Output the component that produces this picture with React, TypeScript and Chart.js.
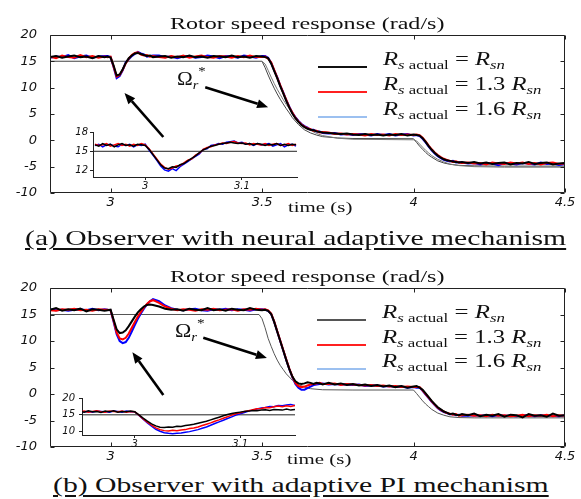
import React, { useEffect, useLayoutEffect, useRef } from 'react';
import { Chart, registerables } from 'chart.js';

Chart.register(...registerables);

// ---------------- data ----------------
const MAIN_X_RANGE = [2.8, 4.5];
const MAIN_Y_RANGE = [-10, 20];
const MAIN_X_TICKS = [3, 3.5, 4, 4.5];
const MAIN_Y_TICKS = [-10, -5, 0, 5, 10, 15, 20];

const TIME = [
  2.80, 2.82, 2.84, 2.86, 2.88, 2.90, 2.92, 2.94, 2.96, 2.98,
  2.99, 3.00, 3.01, 3.02, 3.03, 3.04, 3.05, 3.06, 3.07, 3.08, 3.09, 3.10, 3.11, 3.12, 3.13, 3.14,
  3.16, 3.18, 3.20, 3.22, 3.24, 3.26, 3.28, 3.30, 3.32, 3.34, 3.36, 3.38, 3.40, 3.42, 3.44, 3.46, 3.48, 3.50,
  3.51, 3.52, 3.53, 3.54, 3.55, 3.56, 3.57, 3.58, 3.59, 3.60, 3.61, 3.62, 3.63, 3.64, 3.65, 3.66, 3.67, 3.68, 3.69, 3.70,
  3.72, 3.74, 3.76, 3.78, 3.80, 3.82, 3.84, 3.86, 3.88, 3.90, 3.92, 3.94, 3.96, 3.98, 4.00,
  4.01, 4.02, 4.03, 4.04, 4.05, 4.06, 4.07, 4.08, 4.09, 4.10, 4.11, 4.12, 4.13, 4.14, 4.15, 4.16,
  4.18, 4.20, 4.22, 4.24, 4.26, 4.28, 4.30, 4.32, 4.34, 4.36, 4.38, 4.40, 4.42, 4.44, 4.46, 4.48, 4.50,
];

// (a) neural adaptive mechanism
const A_BLACK = [
  15.8, 16.0, 15.7, 15.9, 16.1, 15.8, 15.9, 15.6, 16.0, 15.8,
  15.9, 15.7, 14.2, 12.3, 12.5, 13.5, 14.7, 15.6, 16.1, 16.5, 16.6, 16.4, 16.2, 16.0, 16.1, 15.8,
  15.9, 16.0, 15.7, 15.9, 15.8, 16.1, 15.8, 15.9, 15.7, 16.0, 15.9, 15.8, 16.1, 15.8, 15.9, 15.7, 16.0, 15.9,
  15.8, 15.6, 14.6, 13.2, 11.8, 10.3, 8.9, 7.5, 6.2, 5.1, 4.2, 3.5, 2.9, 2.5, 2.2, 2.0, 1.9, 1.7, 1.6, 1.5,
  1.4, 1.3, 1.2, 1.3, 1.1, 1.0, 1.2, 1.0, 1.1, 0.9, 1.1, 1.0, 1.2, 0.9, 1.1,
  1.0, 0.9, 0.4, -0.3, -1.1, -1.8, -2.4, -2.9, -3.3, -3.6, -3.8, -3.9, -4.0, -4.1, -4.2, -4.1,
  -4.3, -4.1, -4.4, -4.2, -4.5, -4.3, -4.2, -4.6, -4.3, -4.4, -4.1, -4.5, -4.3, -4.2, -4.6, -4.4, -4.3,
];
const A_RED = [
  15.9, 15.6, 16.1, 15.8, 15.7, 16.2, 15.8, 16.0, 15.7, 15.9,
  15.8, 15.9, 14.0, 12.1, 12.4, 13.4, 14.6, 15.5, 16.2, 16.6, 16.7, 16.3, 16.1, 16.2, 15.9, 16.0,
  15.8, 15.7, 16.0, 15.8, 16.1, 15.7, 15.9, 16.1, 15.8, 15.7, 16.0, 15.9, 15.7, 16.0, 15.8, 16.1, 15.8, 15.8,
  15.9, 15.5, 14.8, 13.4, 11.9, 10.5, 9.0, 7.7, 6.3, 5.3, 4.3, 3.6, 3.0, 2.6, 2.3, 2.1, 1.8, 1.8, 1.5, 1.6,
  1.5, 1.2, 1.3, 1.1, 1.2, 1.1, 0.9, 1.2, 1.0, 1.1, 0.9, 1.2, 1.0, 1.1, 1.0,
  1.1, 1.0, 0.5, -0.2, -1.0, -1.7, -2.3, -2.8, -3.2, -3.5, -3.7, -3.9, -4.1, -4.0, -4.2, -4.3,
  -4.2, -4.4, -4.3, -4.6, -4.2, -4.4, -4.5, -4.2, -4.4, -4.2, -4.5, -4.3, -4.6, -4.3, -4.2, -4.5, -4.4,
];
const A_BLUE = [
  15.7, 15.9, 15.8, 16.2, 15.6, 15.9, 16.1, 15.7, 15.9, 16.0,
  16.0, 15.8, 13.9, 11.8, 12.2, 13.3, 14.8, 15.4, 16.0, 16.4, 16.8, 16.5, 16.3, 15.9, 16.0, 16.1,
  16.1, 15.8, 15.9, 15.6, 15.9, 16.0, 15.7, 15.8, 16.1, 15.9, 15.6, 16.0, 15.9, 15.7, 16.1, 15.9, 15.7, 16.0,
  16.0, 15.7, 14.7, 13.3, 12.0, 10.4, 9.1, 7.6, 6.4, 5.2, 4.4, 3.7, 3.1, 2.7, 2.4, 2.0, 2.0, 1.7, 1.7, 1.4,
  1.3, 1.4, 1.1, 1.2, 1.0, 1.2, 1.1, 0.9, 1.2, 1.0, 1.2, 0.9, 1.1, 1.2, 0.9,
  1.0, 0.8, 0.3, -0.4, -1.2, -1.9, -2.5, -3.0, -3.4, -3.7, -3.9, -4.0, -3.9, -4.2, -4.1, -4.2,
  -4.4, -4.3, -4.6, -4.3, -4.4, -4.7, -4.3, -4.4, -4.6, -4.3, -4.4, -4.6, -4.2, -4.5, -4.4, -4.7, -4.5,
];
const REF_A_T = [2.80, 3.50, 3.51, 3.52, 3.53, 3.54, 3.55, 3.56, 3.57, 3.58, 3.59, 3.60, 3.62, 3.64, 3.66, 3.68, 3.70, 3.75, 3.80, 4.00, 4.01, 4.02, 4.03, 4.04, 4.05, 4.06, 4.08, 4.10, 4.12, 4.15, 4.20, 4.30, 4.50];
const REF_A = [15, 15, 13.8, 12.4, 11.1, 9.9, 8.8, 7.8, 6.9, 6.0, 5.2, 4.3, 3.0, 2.0, 1.4, 1.0, 0.7, 0.45, 0.35, 0.3, -0.4, -1.1, -1.7, -2.3, -2.8, -3.2, -3.9, -4.3, -4.55, -4.75, -4.85, -4.9, -4.9];
const REF2_A = [15, 15, 14.5, 13.3, 12.0, 10.8, 9.7, 8.7, 7.7, 6.8, 6.0, 5.2, 3.8, 2.7, 1.9, 1.3, 0.9, 0.4, 0.2, 0.1, -0.1, -0.7, -1.3, -1.9, -2.4, -2.9, -3.6, -4.1, -4.5, -4.8, -5.0, -5.1, -5.1];

// (b) adaptive PI mechanism
const B_BLACK = [
  15.9, 16.2, 15.7, 16.0, 15.8, 16.1, 15.6, 16.0, 15.9, 15.7,
  15.8, 15.9, 14.0, 12.2, 11.5, 11.6, 12.0, 12.8, 13.7, 14.6, 15.4, 16.0, 16.5, 16.8, 16.9, 16.8,
  16.5, 16.1, 15.9, 16.0, 15.7, 16.1, 15.9, 15.8, 16.2, 15.8, 16.0, 15.7, 16.1, 15.9, 15.8, 16.2, 15.9, 15.8,
  15.9, 15.7, 15.1, 13.6, 11.8, 10.0, 8.2, 6.4, 4.7, 3.3, 2.4, 2.0, 1.9, 2.0, 2.2, 2.1, 1.9, 2.1, 2.0, 1.8,
  2.1, 1.8, 2.0, 1.7, 1.9, 1.6, 1.8, 1.5, 1.7, 1.4, 1.6, 1.3, 1.5, 1.2, 1.4,
  1.5, 1.2, 0.8, 0.1, -0.6, -1.3, -1.9, -2.5, -2.9, -3.3, -3.5, -3.8, -3.7, -3.9, -4.0, -3.8,
  -4.0, -3.7, -4.2, -3.9, -4.1, -3.8, -4.3, -3.9, -4.0, -4.4, -3.8, -4.1, -4.0, -4.3, -3.7, -4.1, -4.0,
];
const B_RED = [
  15.8, 15.7, 16.0, 15.9, 16.1, 15.8, 15.9, 15.7, 16.0, 15.9,
  15.9, 15.8, 13.8, 11.6, 10.5, 10.3, 10.6, 11.4, 12.5, 13.6, 14.6, 15.5, 16.3, 17.0, 17.5, 17.7,
  17.2, 16.5, 16.1, 15.8, 16.0, 15.9, 15.7, 16.0, 15.9, 16.1, 15.8, 15.9, 16.0, 15.7, 16.0, 15.9, 16.1, 15.9,
  16.0, 15.8, 15.2, 13.7, 11.9, 10.1, 8.3, 6.5, 4.8, 3.3, 2.1, 1.5, 1.3, 1.4, 1.6, 1.8, 1.9, 2.0, 2.1, 1.9,
  1.9, 2.0, 1.7, 1.9, 1.8, 1.7, 1.6, 1.7, 1.5, 1.6, 1.4, 1.5, 1.3, 1.4, 1.3,
  1.3, 1.3, 0.7, 0.0, -0.7, -1.4, -2.0, -2.6, -3.0, -3.3, -3.6, -3.7, -3.9, -3.8, -4.1, -4.0,
  -3.9, -4.1, -4.0, -4.2, -3.9, -4.1, -4.0, -4.2, -4.1, -3.9, -4.2, -4.0, -4.1, -3.9, -4.2, -4.0, -4.1,
];
const B_BLUE = [
  16.0, 15.8, 15.9, 15.7, 15.9, 16.0, 15.8, 16.1, 15.8, 16.0,
  15.9, 15.8, 13.6, 11.3, 10.0, 9.6, 9.8, 10.6, 11.8, 13.0, 14.2, 15.2, 16.1, 16.9, 17.5, 17.9,
  17.5, 16.7, 16.2, 15.9, 15.8, 16.0, 16.1, 15.8, 15.7, 16.0, 15.9, 16.1, 15.8, 16.0, 15.9, 15.7, 16.0, 16.0,
  15.9, 15.7, 15.1, 13.6, 11.8, 10.0, 8.2, 6.4, 4.7, 3.2, 1.9, 1.2, 0.8, 0.8, 1.1, 1.4, 1.7, 1.8, 1.9, 2.0,
  1.8, 1.9, 1.8, 1.8, 1.7, 1.8, 1.5, 1.6, 1.6, 1.4, 1.5, 1.3, 1.4, 1.2, 1.3,
  1.2, 1.2, 0.6, -0.1, -0.8, -1.5, -2.1, -2.7, -3.1, -3.4, -3.6, -3.8, -3.8, -4.0, -3.9, -4.1,
  -4.1, -4.0, -4.1, -4.0, -4.2, -4.0, -4.1, -4.1, -4.2, -4.0, -4.0, -4.2, -4.0, -4.1, -4.1, -4.2, -4.0,
];
const REF_B_T = [2.80, 3.49, 3.50, 3.51, 3.52, 3.53, 3.54, 3.55, 3.56, 3.57, 3.58, 3.59, 3.60, 3.62, 3.64, 3.66, 3.70, 3.80, 4.00, 4.01, 4.02, 4.03, 4.04, 4.05, 4.06, 4.08, 4.10, 4.12, 4.15, 4.20, 4.50];
const REF_B = [15, 15, 14.2, 12.5, 10.5, 9.0, 7.6, 6.4, 5.4, 4.6, 3.8, 3.2, 2.6, 1.8, 1.3, 1.0, 0.8, 0.75, 0.75, 0.1, -0.6, -1.3, -1.9, -2.4, -2.9, -3.6, -4.0, -4.3, -4.45, -4.5, -4.5];

// insets (zoom on the load step)
const INSET_X_TICKS = [3, 3.1];
const INSET_A_X = [2.946, 3.157];
const INSET_A_Y = [11, 18];
const INSET_A_Y_TICKS = [12, 15, 18];
const INSET_B_X = [2.95, 3.152];
const INSET_B_Y = [9, 20];
const INSET_B_Y_TICKS = [10, 15, 20];
const INSET_REF = [15, 15];

const INSET_T = [
  2.948, 2.952, 2.956, 2.960, 2.964, 2.968, 2.972, 2.976, 2.980, 2.984, 2.988, 2.992, 2.996,
  3.000, 3.004, 3.008, 3.012, 3.016, 3.020, 3.024, 3.028, 3.032, 3.036, 3.040, 3.044, 3.048,
  3.052, 3.056, 3.060, 3.064, 3.068, 3.072, 3.076, 3.080, 3.084, 3.088, 3.092, 3.096, 3.100,
  3.104, 3.108, 3.112, 3.116, 3.120, 3.124, 3.128, 3.132, 3.136, 3.140, 3.144, 3.148, 3.152, 3.156,
];
const IA_BLACK = [
  16.0, 15.8, 16.2, 15.9, 16.1, 15.7, 16.0, 16.2, 15.9, 16.0, 15.8, 16.1, 16.0,
  15.9, 15.3, 14.5, 13.7, 12.9, 12.4, 12.3, 12.6, 12.5, 12.9, 13.1, 13.5, 13.9,
  14.3, 14.8, 15.2, 15.5, 15.8, 15.9, 16.1, 16.2, 16.3, 16.4, 16.3, 16.2, 16.3,
  16.1, 16.2, 16.0, 16.2, 16.1, 15.9, 16.1, 16.0, 16.2, 15.9, 16.1, 15.9, 16.1, 16.0,
];
const IA_RED = [
  16.1, 15.9, 16.0, 16.2, 15.8, 16.0, 16.2, 15.9, 16.1, 15.8, 16.1, 15.9, 16.2,
  16.0, 15.4, 14.6, 13.8, 13.0, 12.5, 12.2, 12.4, 12.7, 12.8, 13.2, 13.6, 13.8,
  14.4, 14.7, 15.3, 15.6, 15.7, 16.0, 16.1, 16.3, 16.2, 16.4, 16.5, 16.3, 16.2,
  16.3, 16.0, 16.2, 16.1, 16.0, 16.2, 15.9, 16.1, 16.2, 15.9, 16.0, 16.2, 15.9, 16.1,
];
const IA_BLUE = [
  15.9, 16.1, 15.7, 16.0, 16.1, 15.8, 15.7, 16.1, 15.9, 16.1, 15.7, 16.0, 15.9,
  16.1, 15.2, 14.4, 13.6, 12.7, 12.1, 11.9, 12.3, 12.0, 12.6, 13.0, 13.4, 13.8,
  14.2, 14.6, 15.3, 15.4, 15.9, 16.0, 16.2, 16.1, 16.4, 16.5, 16.6, 16.3, 16.4,
  16.1, 16.2, 15.9, 16.2, 16.0, 16.1, 16.2, 15.8, 16.0, 16.2, 15.7, 16.0, 16.1, 15.8,
];
const IB_BLACK = [
  16.0, 15.8, 16.2, 15.9, 16.0, 15.7, 16.1, 15.9, 16.2, 15.8, 16.0, 15.9, 16.1,
  15.9, 15.0, 14.0, 13.1, 12.3, 11.7, 11.3, 11.2, 11.4, 11.3, 11.6, 11.5, 11.8,
  12.0, 12.2, 12.5, 12.8, 13.1, 13.5, 13.9, 14.3, 14.7, 15.1, 15.4, 15.6, 15.8,
  16.0, 16.1, 16.3, 16.2, 16.4, 16.5, 16.3, 16.6, 16.5, 16.4, 16.7, 16.4, 16.6, 16.5,
];
const IB_RED = [
  15.9, 16.1, 15.8, 16.0, 16.2, 15.9, 15.8, 16.1, 16.0, 15.9, 16.1, 15.8, 16.0,
  15.9, 14.9, 13.8, 12.8, 11.9, 11.1, 10.6, 10.3, 10.2, 10.4, 10.3, 10.5, 10.6,
  10.9, 11.1, 11.4, 11.8, 12.2, 12.6, 13.1, 13.5, 14.0, 14.4, 14.9, 15.3, 15.6,
  16.0, 16.2, 16.5, 16.8, 16.9, 17.2, 17.1, 17.4, 17.6, 17.4, 17.7, 17.5, 17.8, 17.6,
];
const IB_BLUE = [
  16.1, 15.9, 16.0, 15.8, 16.1, 16.0, 15.9, 15.8, 16.1, 16.0, 15.8, 16.1, 15.9,
  15.9, 14.8, 13.7, 12.6, 11.6, 10.7, 10.1, 9.7, 9.5, 9.4, 9.5, 9.6, 9.8,
  10.0, 10.3, 10.6, 11.0, 11.4, 11.9, 12.4, 12.9, 13.4, 13.9, 14.4, 14.9, 15.3,
  15.7, 16.1, 16.4, 16.7, 17.0, 17.2, 17.5, 17.4, 17.8, 17.7, 17.9, 18.1, 17.8, 18.0,
];

// annotation arrows [x1, y1, x2, y2] in data units (head at x2,y2)
const ARROWS_A = [[3.3125, 10.1, 3.52, 6.3], [3.174, 0.63, 3.046, 9.0]];
const ARROWS_B = [[3.306, 10.6, 3.516, 6.8], [3.174, -0.2, 3.072, 7.9]];

const LEGEND_FACTORS = ['', '1.3 ', '1.6 '];
const LEGEND_COLORS_A = ['#111111', '#ff2020', '#9cc0f0'];
const LEGEND_COLORS_B = ['#555555', '#ff2020', '#9cc0f0'];

// ---------------- chart helpers ----------------
const SERIF = '"Liberation Serif", "DejaVu Serif", serif';
const TICK_FONT = { family: 'DejaVu Sans', size: 13, style: 'italic' as const };
const INSET_FONT = { family: 'DejaVu Sans', size: 10, style: 'italic' as const };

type Line = { t: number[]; v: number[]; color: string; width: number };

function lineDataset(l: Line) {
  return {
    data: l.v.map((v, i) => ({ x: l.t[i], y: v })),
    borderColor: l.color,
    borderWidth: l.width,
    pointRadius: 0,
    tension: 0,
    fill: false,
  };
}

const framePlugin = {
  id: 'frame',
  afterDatasetsDraw(chart: any, _args: any, opts: any) {
    if (!opts || !opts.enabled) return;
    const { ctx, chartArea: a, scales } = chart;
    const x = scales.x;
    const y = scales.y;
    ctx.save();
    ctx.strokeStyle = '#222';
    ctx.lineWidth = 1;
    const L = Math.round(a.left) + 0.5;
    const R = Math.round(a.right) - 0.5;
    const T = Math.round(a.top) + 0.5;
    const B = Math.round(a.bottom) - 0.5;
    ctx.beginPath();
    ctx.rect(L, T, R - L, B - T);
    for (const t of x.ticks) {
      const px = Math.round(x.getPixelForValue(t.value)) + 0.5;
      ctx.moveTo(px, B); ctx.lineTo(px, B - 4);
      ctx.moveTo(px, T); ctx.lineTo(px, T + 4);
    }
    for (const t of y.ticks) {
      const py = Math.round(y.getPixelForValue(t.value)) + 0.5;
      ctx.moveTo(L, py); ctx.lineTo(L + 4, py);
      ctx.moveTo(R, py); ctx.lineTo(R - 4, py);
    }
    ctx.stroke();
    ctx.fillStyle = '#000';
    ctx.strokeStyle = '#000';
    ctx.lineWidth = 2.6;
    for (const ar of opts.arrows || []) {
      const x1 = x.getPixelForValue(ar[0]);
      const y1 = y.getPixelForValue(ar[1]);
      const x2 = x.getPixelForValue(ar[2]);
      const y2 = y.getPixelForValue(ar[3]);
      const ang = Math.atan2(y2 - y1, x2 - x1);
      const hl = 11;
      const hw = 4.5;
      const bx = x2 - hl * Math.cos(ang);
      const by = y2 - hl * Math.sin(ang);
      ctx.beginPath();
      ctx.moveTo(x1, y1);
      ctx.lineTo(bx, by);
      ctx.stroke();
      ctx.beginPath();
      ctx.moveTo(x2, y2);
      ctx.lineTo(bx - hw * Math.sin(ang), by + hw * Math.cos(ang));
      ctx.lineTo(bx + hw * Math.sin(ang), by - hw * Math.cos(ang));
      ctx.closePath();
      ctx.fill();
    }
    ctx.restore();
  },
};

function mainConfig(lines: Line[], arrows: number[][], padTop: number, xAxisH: number): any {
  return {
    type: 'line',
    data: { datasets: lines.map(lineDataset) },
    options: {
      responsive: false,
      animation: false,
      events: [],
      layout: { padding: { top: padTop, right: 16, left: 0, bottom: 0 } },
      plugins: { legend: { display: false }, tooltip: { enabled: false }, frame: { enabled: true, arrows } },
      scales: {
        x: {
          type: 'linear',
          min: MAIN_X_RANGE[0],
          max: MAIN_X_RANGE[1],
          grid: { display: false, drawTicks: false },
          border: { display: false },
          afterBuildTicks: (s: any) => { s.ticks = MAIN_X_TICKS.map((v) => ({ value: v })); },
          afterFit: (s: any) => { s.height = xAxisH; s.paddingLeft = 0; s.paddingRight = 0; },
          ticks: { autoSkip: false, maxRotation: 0, minRotation: 0, padding: 2, color: '#111', font: TICK_FONT, callback: (v: any) => String(v) },
        },
        y: {
          type: 'linear',
          min: MAIN_Y_RANGE[0],
          max: MAIN_Y_RANGE[1],
          grid: { display: false, drawTicks: false },
          border: { display: false },
          afterBuildTicks: (s: any) => { s.ticks = MAIN_Y_TICKS.map((v) => ({ value: v })); },
          afterFit: (s: any) => { s.width = 50; s.paddingTop = 0; s.paddingBottom = 0; },
          ticks: { padding: 13, color: '#111', font: TICK_FONT, callback: (v: any) => String(v) },
        },
      },
    },
    plugins: [framePlugin],
  };
}

function insetConfig(lines: Line[], xr: number[], yr: number[], yTicks: number[], yPad: number, padTop: number, padRight: number, yW: number, xH: number): any {
  const grid = { display: true, drawOnChartArea: false, drawTicks: true, tickLength: 3, color: '#222' };
  return {
    type: 'line',
    data: { datasets: lines.map(lineDataset) },
    options: {
      responsive: false,
      animation: false,
      events: [],
      layout: { padding: { top: padTop, right: padRight, left: 0, bottom: 0 } },
      plugins: { legend: { display: false }, tooltip: { enabled: false } },
      scales: {
        x: {
          type: 'linear', min: xr[0], max: xr[1], grid, border: { display: true, color: '#222', width: 1 },
          afterBuildTicks: (s: any) => { s.ticks = INSET_X_TICKS.map((v) => ({ value: v })); },
          afterFit: (s: any) => { s.height = xH; s.paddingLeft = 0; s.paddingRight = 0; },
          ticks: { autoSkip: false, maxRotation: 0, minRotation: 0, padding: 0, color: '#111', font: INSET_FONT, callback: (v: any) => String(v) },
        },
        y: {
          type: 'linear', min: yr[0], max: yr[1], grid, border: { display: true, color: '#222', width: 1 },
          afterBuildTicks: (s: any) => { s.ticks = yTicks.map((v) => ({ value: v })); },
          afterFit: (s: any) => { s.width = yW; s.paddingTop = 0; s.paddingBottom = 0; },
          ticks: { padding: yPad, color: '#111', font: INSET_FONT, callback: (v: any) => String(v) },
        },
      },
    },
  };
}

function ChartCanvas({ left, top, width, height, build }: { left: number; top: number; width: number; height: number; build: () => any }) {
  const ref = useRef<HTMLCanvasElement>(null);
  useEffect(() => {
    const chart = new Chart(ref.current as HTMLCanvasElement, build());
    return () => chart.destroy();
  }, []);
  return <canvas ref={ref} width={width} height={height} style={{ position: 'absolute', left, top, width, height }} />;
}

function FitText({ left, top, width, size, style, children }: any) {
  const ref = useRef<HTMLDivElement>(null);
  useLayoutEffect(() => {
    const el = ref.current;
    if (!el) return;
    el.style.transform = 'none';
    const w = el.offsetWidth;
    if (w > 0) el.style.transform = `scaleX(${width / w})`;
  }, [width]);
  return (
    <div
      ref={ref}
      style={{ position: 'absolute', left, top, whiteSpace: 'nowrap', transformOrigin: '0 0', fontFamily: SERIF, fontSize: size, lineHeight: 1, color: '#111', ...style }}
    >
      {children}
    </div>
  );
}

const Sub = ({ children }: any) => <span style={{ fontSize: '0.68em', position: 'relative', top: '0.28em' }}>{children}</span>;
const Sup = ({ children }: any) => <span style={{ fontSize: '0.7em', position: 'relative', top: '-0.75em' }}>{children}</span>;

function LegendBlock({ lineLeft, lineW, textLeft, lineYs, colors, widths }: any) {
  return (
    <>
      {LEGEND_FACTORS.map((f, i) => (
        <React.Fragment key={i}>
          <div style={{ position: 'absolute', left: lineLeft, top: lineYs[i] - 1, width: lineW, height: 0, borderTop: `2px solid ${colors[i]}` }} />
          <FitText left={textLeft} top={lineYs[i] - 2 - 0.8375 * 19} width={widths[i]} size={19}>
            <i>R</i><Sub><i>s</i> actual</Sub> = {f}<i>R</i><Sub><i>sn</i></Sub>
          </FitText>
        </React.Fragment>
      ))}
    </>
  );
}

function Omega({ left, baseline, width }: any) {
  return (
    <FitText left={left} top={baseline - 0.8375 * 19} width={width} size={19}>
      Ω<Sub><i>r</i></Sub><Sup>*</Sup>
    </FitText>
  );
}

export default function App() {
  const aLines: Line[] = [
    { t: TIME, v: A_BLACK, color: '#000000', width: 2 },
    { t: TIME, v: A_RED, color: '#ff0000', width: 2 },
    { t: TIME, v: A_BLUE, color: '#0000ff', width: 2 },
    { t: REF_A_T, v: REF2_A, color: '#777777', width: 1 },
    { t: REF_A_T, v: REF_A, color: '#444444', width: 1 },
  ];
  const bLines: Line[] = [
    { t: TIME, v: B_BLACK, color: '#000000', width: 2 },
    { t: TIME, v: B_RED, color: '#ff0000', width: 2 },
    { t: TIME, v: B_BLUE, color: '#0000ff', width: 2 },
    { t: REF_B_T, v: REF_B, color: '#555555', width: 1 },
  ];
  const iaLines: Line[] = [
    { t: INSET_T, v: IA_BLACK, color: '#000000', width: 1.5 },
    { t: INSET_T, v: IA_RED, color: '#ff0000', width: 1.5 },
    { t: INSET_T, v: IA_BLUE, color: '#0000ff', width: 1.5 },
    { t: INSET_A_X, v: INSET_REF, color: '#222222', width: 1 },
  ];
  const ibLines: Line[] = [
    { t: INSET_T, v: IB_BLACK, color: '#000000', width: 1.5 },
    { t: INSET_T, v: IB_RED, color: '#ff0000', width: 1.5 },
    { t: INSET_T, v: IB_BLUE, color: '#0000ff', width: 1.5 },
    { t: INSET_B_X, v: INSET_REF, color: '#222222', width: 1 },
  ];

  return (
    <div style={{ position: 'absolute', left: 0, top: 0, width: 581, height: 499, background: '#fff', overflow: 'hidden' }}>
      <ChartCanvas left={0} top={0} width={581} height={215} build={() => mainConfig(aLines, ARROWS_A, 35, 22)} />
      <ChartCanvas left={0} top={250} width={581} height={215} build={() => mainConfig(bLines, ARROWS_B, 38, 18)} />
      <ChartCanvas left={60} top={122} width={245} height={72} build={() => insetConfig(iaLines, INSET_A_X, INSET_A_Y, INSET_A_Y_TICKS, 2, 10, 8, 33, 17)} />
      <ChartCanvas left={50} top={390} width={250} height={60} build={() => insetConfig(ibLines, INSET_B_X, INSET_B_Y, INSET_B_Y_TICKS, 4, 8, 5, 32, 15)} />

      <FitText left={170} top={29 - 0.8375 * 16} width={275} size={16}>Rotor speed response (rad/s)</FitText>
      <FitText left={170} top={282 - 0.8375 * 16} width={275} size={16}>Rotor speed response (rad/s)</FitText>

      <FitText left={288} top={213 - 0.8375 * 15} width={64} size={15}>time (s)</FitText>
      <FitText left={287} top={465 - 0.8375 * 15} width={64} size={15}>time (s)</FitText>

      <FitText left={25} top={246 - 0.8375 * 21} width={541} size={21} style={{ textDecoration: 'underline', textUnderlineOffset: '3px' }}>
        (a) Observer with neural adaptive mechanism
      </FitText>
      <FitText left={53} top={493 - 0.8375 * 21} width={495} size={21} style={{ textDecoration: 'underline', textUnderlineOffset: '3px' }}>
        (b) Observer with adaptive PI mechanism
      </FitText>

      <LegendBlock lineLeft={318} lineW={49} textLeft={383} lineYs={[67, 92, 117]} colors={LEGEND_COLORS_A} widths={[122, 159, 159]} />
      <LegendBlock lineLeft={317} lineW={49} textLeft={382} lineYs={[320, 345, 369]} colors={LEGEND_COLORS_B} widths={[123, 160, 160]} />

      <Omega left={177} baseline={85} width={29} />
      <Omega left={175} baseline={337} width={30} />
    </div>
  );
}
